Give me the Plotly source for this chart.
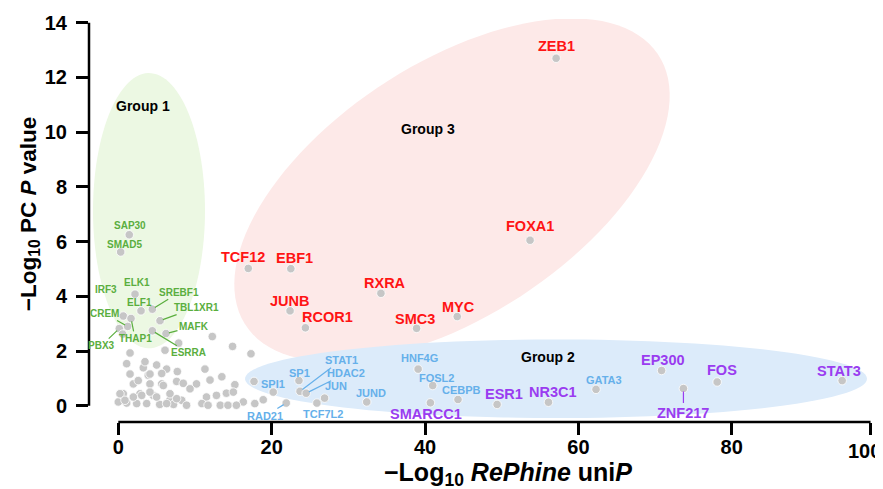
import numpy as np
import plotly.graph_objects as go

# labelled transcription factors (x = -log10 RePhine uniP, y = -log10 PC P value)
red_names = ["ZEB1", "FOXA1", "TCF12", "EBF1", "RXRA", "JUNB", "RCOR1", "SMC3", "MYC"]
red_x = [57.1, 53.7, 16.95, 22.5, 34.25, 22.4, 24.4, 38.9, 44.2]
red_y = [12.70, 6.05, 5.02, 5.01, 4.11, 3.47, 2.85, 2.83, 3.26]

green_names = ["SAP30", "SMAD5", "ELK1", "IRF3", "ELF1", "SREBF1", "TBL1XR1",
               "CREM", "THAP1", "MAFK", "ESRRA", "PBX3"]
green_x = [1.43, 0.31, 2.18, 0.65, 2.96, 4.44, 5.44, 1.22, 1.66, 6.22, 4.44, 0.13]
green_y = [6.25, 5.62, 4.08, 3.28, 3.47, 3.53, 3.11, 2.90, 3.19, 2.64, 2.74, 2.82]

blue_names = ["SPI1", "RAD21", "SP1", "STAT1", "HDAC2", "JUN", "TCF7L2", "JUND",
              "HNF4G", "FOSL2", "CEBPB", "GATA3"]
blue_x = [20.2, 21.9, 23.56, 23.7, 24.5, 26.9, 25.9, 32.4, 39.1, 41.0, 44.3, 62.3]
blue_y = [0.50, 0.10, 0.92, 0.53, 0.46, 0.28, 0.10, 0.14, 1.34, 0.74, 0.23, 0.60]

purple_names = ["SMARCC1", "ESR1", "NR3C1", "EP300", "ZNF217", "FOS", "STAT3"]
purple_x = [40.7, 49.4, 56.1, 70.85, 73.7, 78.1, 94.4]
purple_y = [0.11, 0.05, 0.13, 1.29, 0.63, 0.87, 0.92]

# unlabelled factors
other_x = [1.53, 6.09, 14.9, 17.3, 1.09, 3.26, 5.0, 6.3, 7.7, 11.3, 1.53, 3.91, 5.66,
           1.96, 4.13, 5.66, 7.61, 8.47, 10.2, 11.96, 13.5, 15.2, 0.65, 2.83, 4.56,
           6.74, 8.27, 9.35, 11.5, 12.8, 14.1, 15.0, 16.3, 0.0, 1.09, 2.4, 3.7, 5.4,
           7.2, 8.9, 10.9, 11.7, 13.3, 14.3, 15.4, 17.8, 18.9, 17.7, 0.57, 7.87,
           12.26, 4.13, 2.6, 0.22, 0.87, 1.96, 3.05, 4.13, 5.0, 5.87, 6.74, 7.61,
           6.3, 3.48]
other_y = [1.93, 2.03, 2.17, 1.90, 1.54, 1.39, 1.49, 1.34, 1.25, 1.34, 1.16, 1.12, 1.18,
           0.80, 0.80, 0.80, 0.89, 0.82, 0.80, 0.94, 1.06, 0.77, 0.44, 0.44, 0.38,
           0.22, 0.20, 0.62, 0.32, 0.38, 0.46, 0.50, 0.14, 0.14, 0.10, 0.08, 0.08, 0.05,
           0.05, 0.02, 0.08, 0.02, 0.02, 0.02, 0.02, 0.08, 0.22, 0.89, 2.62, 2.29,
           2.53, 1.16, 0.92, 0.44, 0.20, 0.32, 0.38, 0.50, 0.32, 0.74, 0.44, 0.26,
           0.08, 1.61]

x_ticks = [0, 20, 40, 60, 80, 98.1]
x_tick_text = ["0", "20", "40", "60", "80", ""]
y_ticks = [0, 2, 4, 6, 8, 10, 12, 14]

# label placement: (dx px, dy px, leader line)
offsets = {
    "ZEB1": (0, -12, False), "FOXA1": (0, -14, False), "TCF12": (-5, -11, False),
    "EBF1": (4, -11, False), "RXRA": (4, -10, False), "JUNB": (-1, -10, False),
    "RCOR1": (22, -11, False), "SMC3": (-2, -9, False), "MYC": (1, -10, False),
    "SAP30": (1, -9, False), "SMAD5": (4, -7, False), "ELK1": (2, -12, False),
    "IRF3": (-17, -27, False), "ELF1": (-2, -8, False), "SREBF1": (27, -17, True),
    "TBL1XR1": (36, -13, True), "CREM": (-23, -13, True), "THAP1": (4, 20, True),
    "MAFK": (28, -7, True), "ESRRA": (36, 22, True), "PBX3": (-18, 17, True),
    "SPI1": (0, -8, False), "RAD21": (-21, 13, True), "SP1": (1, -8, False),
    "STAT1": (41, -31, True), "HDAC2": (40, -20, True), "JUN": (11, -12, False),
    "TCF7L2": (6, 11, False), "JUND": (4, -9, False), "HNF4G": (1, -11, False),
    "FOSL2": (4, -8, False), "CEBPB": (4, -9, False), "GATA3": (8, -9, False),
    "SMARCC1": (-4, 11, False), "ESR1": (7, -10, False), "NR3C1": (5, -10, False),
    "EP300": (1, -10, False), "ZNF217": (0, 24, True), "FOS": (5, -12, False),
    "STAT3": (-3, -10, False),
}

FONT = "Liberation Sans, Arial, sans-serif"
RED, GREEN, BLUE, PURPLE = "#ff1414", "#5aae3e", "#66b0ea", "#9a3cf0"

# page sits inside the default 8px body margin, so the figure is 8px smaller
PAGE_PAD = 8
X0_PX, X_SCALE = 118.3, 7.668
Y0_PX, Y_SCALE = 405.5, 27.84
PLOT_L, PLOT_R, PLOT_T, PLOT_B = 89, 879, 12, 422   # plot area on the page


def to_x(px):
    return (px - X0_PX) / X_SCALE


def to_y(py):
    return (Y0_PX - py) / Y_SCALE


X_RANGE = [to_x(PLOT_L), to_x(PLOT_R)]
Y_RANGE = [to_y(PLOT_B), to_y(PLOT_T)]


def paper_x(v):
    return (v - X_RANGE[0]) / (X_RANGE[1] - X_RANGE[0])


def paper_y(v):
    return (v - Y_RANGE[0]) / (Y_RANGE[1] - Y_RANGE[0])


def ellipse_path(cx, cy, a, b, angle=0.0):
    t = np.linspace(0, 2 * np.pi, 120)
    th = np.radians(angle)
    px = cx + a * np.cos(t) * np.cos(th) - b * np.sin(t) * np.sin(th)
    py = cy - (a * np.cos(t) * np.sin(th) + b * np.sin(t) * np.cos(th))
    pts = [f"{to_x(u):.3f},{to_y(v):.3f}" for u, v in zip(px, py)]
    return "M " + " L ".join(pts) + " Z"


fig = go.Figure()

all_x = red_x + green_x + blue_x + purple_x + other_x
all_y = red_y + green_y + blue_y + purple_y + other_y
fig.add_trace(go.Scatter(
    x=all_x, y=all_y, mode="markers",
    marker=dict(size=8.5, color="#c6c6c6", line=dict(color="white", width=0.8)),
    hoverinfo="x+y", showlegend=False,
))

shapes = [
    dict(type="path", path=ellipse_path(149, 207, 56, 140), fillcolor="#ecf8e3",
         line=dict(width=0), layer="below"),
    dict(type="path", path=ellipse_path(452, 186, 248, 128, 34), fillcolor="#fde9e8",
         line=dict(width=0), layer="below"),
    dict(type="path", path=ellipse_path(556, 378, 311, 40), fillcolor="#dcebfa",
         line=dict(width=0), layer="below"),
    # detached axis lines
    dict(type="line", xref="paper", yref="paper", x0=paper_x(0), x1=paper_x(x_ticks[-1]),
         y0=0, y1=0, line=dict(color="black", width=2.5)),
    dict(type="line", xref="paper", yref="paper", x0=0, x1=0,
         y0=paper_y(0), y1=paper_y(14), line=dict(color="black", width=2.5)),
]

annotations = []


def add_labels(names, xs, ys, color, size):
    for n, x, y in zip(names, xs, ys):
        dx, dy, leader = offsets[n]
        font = dict(family=FONT, size=size, color=color, weight="bold")
        if leader:
            annotations.append(dict(
                x=x, y=y, text=n, showarrow=True, arrowhead=0, arrowwidth=1.2,
                arrowcolor=color, ax=dx, ay=dy, standoff=3, font=font))
        else:
            annotations.append(dict(
                x=x, y=y, text=n, showarrow=False, xshift=dx, yshift=-dy, font=font))


add_labels(red_names, red_x, red_y, RED, 14.5)
add_labels(green_names, green_x, green_y, GREEN, 10)
add_labels(blue_names, blue_x, blue_y, BLUE, 11)
add_labels(purple_names, purple_x, purple_y, PURPLE, 14.5)

for txt, px, py in [("Group 1", 143, 100), ("Group 3", 428, 124), ("Group 2", 548, 356)]:
    annotations.append(dict(x=to_x(px), y=to_y(py), text=txt, showarrow=False,
                            font=dict(family=FONT, size=14, color="black", weight="bold")))

# last x tick label sits a little left of its tick, as in the original
annotations.append(dict(
    x=x_ticks[-1], xref="x", xshift=-6, xanchor="center", yref="paper", y=0,
    yshift=-29, yanchor="middle", showarrow=False, text="100",
    font=dict(family=FONT, size=20, color="black", weight="bold")))

annotations.append(dict(
    xref="paper", x=0, xshift=-59, xanchor="center", y=7, yref="y", yanchor="middle",
    textangle=-90, showarrow=False,
    text="−Log<sub>10</sub> PC <i>P</i> value",
    font=dict(family=FONT, size=22.5, color="black", weight="bold")))
annotations.append(dict(
    x=50.76, xref="x", xanchor="center", yref="paper", y=0, yshift=-52,
    yanchor="middle", showarrow=False,
    text="−Log<sub>10</sub> <i>RePhine</i> uni<i>P</i>",
    font=dict(family=FONT, size=25, color="black", weight="bold")))

fig.update_layout(
    width=883 - PAGE_PAD, height=489 - PAGE_PAD,
    margin=dict(l=PLOT_L - PAGE_PAD, r=883 - PLOT_R, t=PLOT_T - PAGE_PAD, b=489 - PLOT_B),
    plot_bgcolor="white", paper_bgcolor="white",
    shapes=shapes, annotations=annotations,
    font=dict(family=FONT),
)

fig.update_xaxes(
    range=X_RANGE, showgrid=False, zeroline=False, showline=False,
    tickvals=x_ticks, ticktext=x_tick_text, ticks="outside", ticklen=12,
    tickwidth=2.5, tickcolor="black", ticklabelstandoff=-5,
    tickfont=dict(family=FONT, size=20, color="black", weight="bold"),
)
fig.update_yaxes(
    range=Y_RANGE, showgrid=False, zeroline=False, showline=False,
    tickvals=y_ticks, ticks="outside", ticklen=12, tickwidth=2.5, tickcolor="black",
    ticklabelstandoff=5, ticklabeloverflow="allow",
    tickfont=dict(family=FONT, size=20, color="black", weight="bold"),
)

fig.write_html("out.html")
